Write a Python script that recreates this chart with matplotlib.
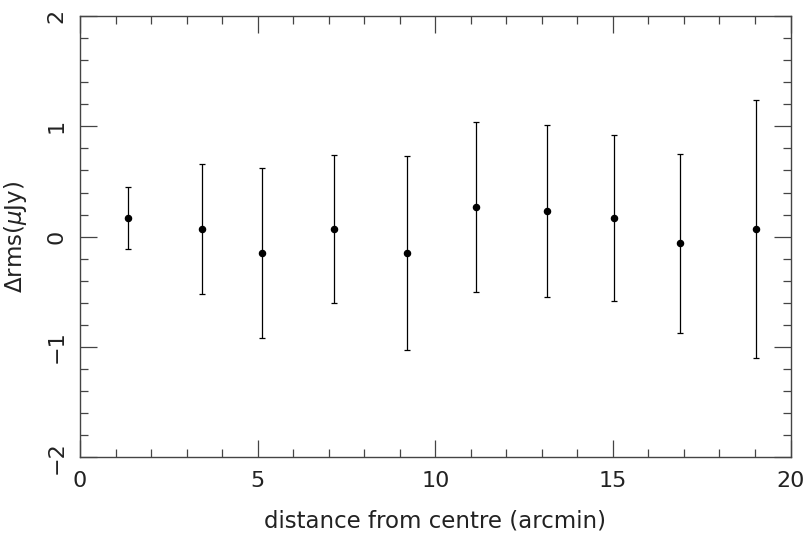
import matplotlib
matplotlib.use("Agg")
import matplotlib.pyplot as plt
from matplotlib.ticker import MultipleLocator

# distance from centre (arcmin) and rms difference (uJy) with 1-sigma errors
distance = [1.35, 3.43, 5.12, 7.15, 9.19, 11.15, 13.15, 15.02, 16.90, 19.04]
delta_rms = [0.17, 0.07, -0.15, 0.07, -0.15, 0.27, 0.23, 0.17, -0.06, 0.07]
delta_err = [0.28, 0.59, 0.77, 0.67, 0.88, 0.77, 0.78, 0.75, 0.81, 1.17]

plt.rcParams["font.family"] = ["DejaVu Sans"]

fig = plt.figure(figsize=(8.06, 5.40), dpi=100)
ax = fig.add_axes([0.0993, 0.1531, 0.8815, 0.8173])

ax.errorbar(
    distance,
    delta_rms,
    yerr=delta_err,
    fmt="o",
    color="black",
    markersize=4.4,
    elinewidth=0.9,
    capsize=2.2,
    capthick=0.9,
)

ax.set_xlim(0, 20)
ax.set_ylim(-2, 2)
ax.xaxis.set_major_locator(MultipleLocator(5))
ax.xaxis.set_minor_locator(MultipleLocator(1))
ax.yaxis.set_major_locator(MultipleLocator(1))
ax.yaxis.set_minor_locator(MultipleLocator(0.2))

ax.tick_params(which="both", direction="in", top=True, right=True,
               color="#444444", width=0.9, labelsize=16, labelcolor="#222222")
ax.tick_params(which="major", length=12, pad=10)
ax.tick_params(which="minor", length=6)
for label in ax.get_yticklabels():
    label.set_rotation(90)
    label.set_va("center")
for spine in ax.spines.values():
    spine.set_linewidth(1.0)
    spine.set_color("#444444")

ax.set_xlabel("distance from centre (arcmin)", fontsize=16.5, labelpad=13,
              color="#222222")
ax.set_ylabel(r"$\Delta$rms($\mu$Jy)", fontsize=16.5, labelpad=12,
              color="#222222")

fig.savefig("out.png", dpi=100)
